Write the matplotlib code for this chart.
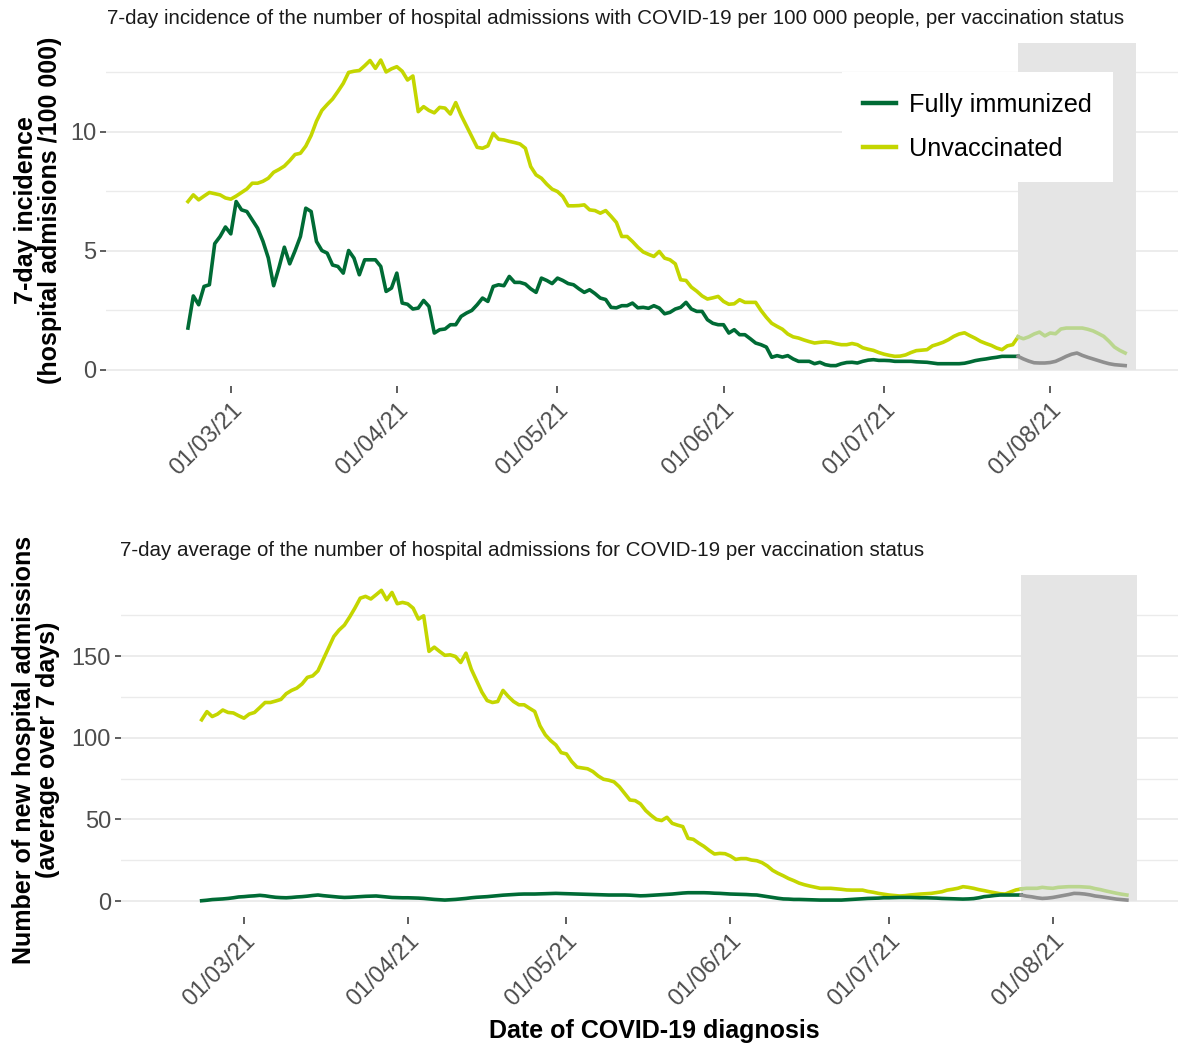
import numpy as np
import matplotlib
matplotlib.use("Agg")
import matplotlib.pyplot as plt
import matplotlib.dates as mdates
from matplotlib.lines import Line2D

plt.rcParams['font.family'] = ['Liberation Sans', 'DejaVu Sans']

# daily series, 21/02/21 .. 15/08/21
first_day = np.datetime64('2021-02-21')
dates = first_day + np.arange(176)

# 7-day incidence per 100 000
inc_unvacc = [
    7.07, 7.35, 7.14, 7.30, 7.45, 7.40, 7.35, 7.22, 7.17, 7.30,
    7.45, 7.60, 7.84, 7.84, 7.92, 8.05, 8.30, 8.42, 8.56, 8.79,
    9.05, 9.10, 9.40, 9.85, 10.45, 10.90, 11.15, 11.38, 11.70, 12.04,
    12.50, 12.55, 12.58, 12.78, 13.00, 12.67, 13.02, 12.52, 12.65, 12.74,
    12.55, 12.18, 12.35, 10.85, 11.06, 10.90, 10.80, 11.03, 11.00, 10.75,
    11.23, 10.70, 10.25, 9.80, 9.35, 9.31, 9.41, 9.94, 9.69, 9.66,
    9.60, 9.55, 9.49, 9.31, 8.54, 8.19, 8.05, 7.80, 7.59, 7.49,
    7.28, 6.89, 6.89, 6.90, 6.93, 6.72, 6.69, 6.58, 6.69, 6.45,
    6.19, 5.60, 5.60, 5.39, 5.15, 4.95, 4.85, 4.76, 4.97, 4.69,
    4.62, 4.45, 3.78, 3.75, 3.47, 3.30, 3.10, 2.97, 3.02, 3.08,
    2.87, 2.75, 2.77, 2.94, 2.83, 2.83, 2.83, 2.49, 2.20, 1.95,
    1.82, 1.70, 1.50, 1.38, 1.33, 1.25, 1.18, 1.12, 1.15, 1.17,
    1.15, 1.09, 1.05, 1.05, 1.10, 1.05, 0.92, 0.86, 0.81, 0.72,
    0.65, 0.60, 0.56, 0.57, 0.62, 0.72, 0.80, 0.82, 0.84, 1.00,
    1.07, 1.15, 1.26, 1.40, 1.50, 1.55, 1.43, 1.32, 1.19, 1.10,
    1.02, 0.91, 0.84, 1.00, 1.05, 1.38, 1.30, 1.38, 1.50, 1.58,
    1.42, 1.54, 1.51, 1.71, 1.75, 1.75, 1.75, 1.75, 1.70, 1.63,
    1.52, 1.40, 1.19, 0.95, 0.81, 0.70,
]
inc_immun = [
    1.75, 3.10, 2.73, 3.50, 3.57, 5.30, 5.60, 6.00, 5.71, 7.07,
    6.72, 6.65, 6.30, 5.95, 5.40, 4.70, 3.53, 4.30, 5.15, 4.45,
    5.00, 5.60, 6.79, 6.65, 5.39, 5.01, 4.90, 4.40, 4.34, 4.06,
    5.01, 4.69, 3.99, 4.62, 4.62, 4.62, 4.34, 3.29, 3.43, 4.06,
    2.80, 2.75, 2.55, 2.59, 2.91, 2.66, 1.54, 1.68, 1.71, 1.89,
    1.89, 2.24, 2.38, 2.49, 2.73, 3.01, 2.87, 3.50, 3.57, 3.53,
    3.92, 3.67, 3.67, 3.60, 3.40, 3.25, 3.85, 3.75, 3.62, 3.85,
    3.75, 3.62, 3.57, 3.40, 3.25, 3.36, 3.20, 3.01, 2.95, 2.62,
    2.60, 2.69, 2.69, 2.80, 2.60, 2.62, 2.58, 2.69, 2.59, 2.35,
    2.41, 2.55, 2.62, 2.83, 2.55, 2.45, 2.45, 2.10, 1.95, 1.89,
    1.89, 1.54, 1.68, 1.47, 1.47, 1.30, 1.12, 1.05, 0.95, 0.52,
    0.59, 0.53, 0.59, 0.45, 0.35, 0.35, 0.35, 0.25, 0.31, 0.21,
    0.17, 0.17, 0.25, 0.30, 0.31, 0.28, 0.35, 0.40, 0.42, 0.39,
    0.39, 0.38, 0.35, 0.35, 0.35, 0.35, 0.33, 0.32, 0.31, 0.28,
    0.25, 0.25, 0.25, 0.25, 0.25, 0.27, 0.32, 0.38, 0.42, 0.45,
    0.49, 0.52, 0.56, 0.56, 0.56, 0.56, 0.45, 0.36, 0.29, 0.28,
    0.28, 0.30, 0.35, 0.45, 0.56, 0.65, 0.70, 0.60, 0.52, 0.45,
    0.38, 0.31, 0.25, 0.21, 0.19, 0.17,
]

# 7-day average of admissions
adm_unvacc = [
    111.0, 116.0, 113.0, 114.5, 117.0, 115.5, 115.2, 113.5, 112.0, 114.5,
    115.5, 118.5, 121.6, 121.6, 122.5, 123.5, 127.0, 129.0, 130.4, 133.0,
    137.0, 137.9, 141.0, 148.0, 155.0, 162.0, 166.0, 169.0, 174.0, 179.5,
    185.5, 186.6, 185.0, 187.6, 190.3, 184.5, 189.0, 182.1, 182.9, 182.1,
    179.4, 172.7, 174.7, 152.9, 155.5, 152.9, 150.5, 150.8, 149.8, 146.1,
    151.8, 142.0, 135.0, 128.0, 122.8, 121.6, 122.2, 129.0, 125.3, 122.2,
    120.2, 120.2, 118.1, 116.1, 107.3, 101.8, 98.3, 95.6, 90.9, 90.1,
    85.4, 82.0, 81.5, 81.0, 79.3, 76.6, 74.6, 74.0, 73.0, 70.0,
    66.0, 61.9, 61.5, 59.5, 55.4, 52.5, 50.0, 49.3, 51.3, 47.6,
    46.5, 45.6, 38.4, 37.8, 35.5, 33.5, 31.0, 28.8, 29.2, 29.0,
    27.6, 25.5, 26.0, 26.0, 25.1, 24.7, 23.5, 21.5, 18.8, 17.0,
    15.5, 13.8, 12.5, 11.0, 10.0, 9.2, 8.5, 7.8, 7.8, 7.8,
    7.5, 7.2, 6.8, 6.7, 6.7, 6.7, 5.9, 5.4, 4.7, 4.2,
    3.7, 3.4, 3.1, 3.3, 3.7, 4.0, 4.3, 4.5, 4.7, 5.2,
    5.7, 6.7, 7.2, 7.8, 8.8, 8.4, 7.8, 7.0, 6.4, 5.7,
    5.1, 4.5, 4.3, 5.6, 6.8, 7.4, 7.8, 7.8, 7.8, 8.4,
    8.0, 7.8, 8.4, 8.6, 8.8, 8.8, 8.8, 8.6, 8.4, 7.6,
    7.0, 6.2, 5.5, 4.8, 4.2, 3.7,
]
adm_immun = [
    0.2, 0.5, 0.9, 1.1, 1.3, 1.6, 2.0, 2.5, 2.7, 3.0,
    3.2, 3.5, 3.2, 2.7, 2.3, 2.1, 2.0, 2.2, 2.5, 2.7,
    3.0, 3.4, 3.7, 3.3, 3.0, 2.7, 2.4, 2.2, 2.3, 2.5,
    2.7, 2.9, 3.0, 3.1, 2.8, 2.5, 2.2, 2.1, 2.0, 2.0,
    1.9, 1.8, 1.6, 1.3, 1.0, 0.8, 0.6, 0.8, 1.0, 1.3,
    1.6, 2.0, 2.3, 2.5, 2.7, 3.0, 3.3, 3.6, 3.8, 4.0,
    4.2, 4.3, 4.3, 4.3, 4.4, 4.5, 4.6, 4.7, 4.6, 4.5,
    4.4, 4.3, 4.2, 4.1, 4.0, 3.9, 3.8, 3.7, 3.7, 3.7,
    3.7, 3.6, 3.4, 3.2, 3.3, 3.5, 3.7, 3.9, 4.1, 4.3,
    4.6, 4.9, 5.1, 5.1, 5.1, 5.1, 5.0, 4.8, 4.7, 4.5,
    4.3, 4.2, 4.1, 4.0, 3.8, 3.7, 3.2, 2.7, 2.2, 1.7,
    1.3, 1.2, 1.0, 1.0, 0.9, 0.8, 0.7, 0.6, 0.6, 0.6,
    0.6, 0.6, 0.8, 1.0, 1.2, 1.4, 1.6, 1.7, 1.8, 2.0,
    2.0, 2.1, 2.2, 2.2, 2.2, 2.1, 2.0, 2.0, 1.9, 1.8,
    1.6, 1.5, 1.4, 1.3, 1.2, 1.3, 1.5, 2.0, 2.7, 3.0,
    3.4, 3.7, 3.7, 3.7, 3.7, 3.7, 3.0, 2.6, 2.0, 1.6,
    1.8, 2.2, 2.8, 3.4, 4.0, 4.7, 4.6, 4.3, 3.8, 3.1,
    2.7, 2.2, 1.7, 1.2, 0.9, 0.6,
]

# period with incomplete data (shaded)
shade_start = np.datetime64('2021-07-26')
shade_end = np.datetime64('2021-08-17')
shade_top_inc = 13.72
shade_top_adm = 199.5

col_immun = '#006B35'
col_unvacc = '#C4D600'
col_immun_pale = '#8F8F8F'
col_unvacc_pale = '#BAD68E'

x_lo = mdates.date2num(np.datetime64('2021-03-01')) - 23.3
x_hi = mdates.date2num(np.datetime64('2021-03-01')) + 176.8

fig = plt.figure(figsize=(11.78, 10.46), dpi=100)
ax1 = fig.add_axes([0.0900, 0.6310, 0.9097, 0.3432])
ax2 = fig.add_axes([0.1025, 0.1230, 0.8981, 0.3426])

dnum = mdates.date2num(dates)
cut = int(np.argmax(dates >= shade_start))


def draw_panel(ax, immun, unvacc, shade_top, ylim, majors, minors):
    immun = np.asarray(immun)
    unvacc = np.asarray(unvacc)
    ax.fill_between(mdates.date2num([shade_start, shade_end]), 0, shade_top,
                    color='#E5E5E5', lw=0, zorder=1)
    ax.plot(dnum[:cut + 1], unvacc[:cut + 1], color=col_unvacc, lw=2.6, zorder=3,
            solid_joinstyle='round')
    ax.plot(dnum[:cut + 1], immun[:cut + 1], color=col_immun, lw=2.6, zorder=3,
            solid_joinstyle='round')
    ax.plot(dnum[cut:], unvacc[cut:], color=col_unvacc_pale, lw=2.6, zorder=3)
    ax.plot(dnum[cut:], immun[cut:], color=col_immun_pale, lw=2.6, zorder=3)

    ax.set_xlim(x_lo, x_hi)
    ax.set_ylim(*ylim)
    ax.set_yticks(majors)
    ax.set_yticks(minors, minor=True)
    ax.grid(True, axis='y', which='major', color='#EBEBEB', lw=1.3)
    ax.grid(True, axis='y', which='minor', color='#EBEBEB', lw=1.0)
    ax.grid(False, axis='x')
    ax.set_axisbelow(True)
    for s in ax.spines.values():
        s.set_visible(False)

    ax.xaxis.set_major_locator(mdates.MonthLocator())
    ax.xaxis.set_major_formatter(mdates.DateFormatter('%d/%m/%y'))
    ax.tick_params(axis='x', length=5, width=1.1, color='#333333', pad=4,
                   labelsize=17, labelcolor='#4D4D4D')
    ax.tick_params(axis='y', length=4, width=1.1, color='#333333', pad=3,
                   labelsize=17, labelcolor='#4D4D4D')
    ax.tick_params(which='minor', length=0)
    for lab in ax.get_xticklabels():
        lab.set_rotation(45)
        lab.set_ha('right')
        lab.set_rotation_mode('anchor')


draw_panel(ax1, inc_immun, inc_unvacc, shade_top_inc, (-0.686, 14.41),
           [0, 5, 10], [2.5, 7.5, 12.5])
draw_panel(ax2, adm_immun, adm_unvacc, shade_top_adm, (-9.98, 209.5),
           [0, 50, 100, 150], [25, 75, 125, 175])

handles = [Line2D([], [], color=col_immun, lw=3.2),
           Line2D([], [], color=col_unvacc, lw=3.2)]
leg = ax1.legend(handles, ['Fully immunized', 'Unvaccinated'],
                 loc='upper left', bbox_to_anchor=(842 / 1178, 1 - 72 / 1046),
                 bbox_transform=fig.transFigure, frameon=True, facecolor='white',
                 edgecolor='none', framealpha=1, fancybox=False, fontsize=18.2,
                 handlelength=1.3, handletextpad=0.55, labelspacing=0.8,
                 borderpad=0.82, borderaxespad=0)
leg.set_zorder(5)

fig.text(107 / 1178, 1 - 19 / 1046,
         '7-day incidence of the number of hospital admissions with COVID-19 per 100 000 people, per vaccination status',
         ha='left', va='center', fontsize=14.8, color='#1A1A1A')
fig.text(120 / 1178, 1 - 551 / 1046,
         '7-day average of the number of hospital admissions for COVID-19 per vaccination status',
         ha='left', va='center', fontsize=14.8, color='#1A1A1A')

fig.text(38 / 1178, 1 - 210 / 1046, '7-day incidence\n(hospital admisions /100 000)',
         rotation=90, ha='center', va='center', multialignment='center',
         fontsize=18, fontweight='bold', linespacing=1.05)
fig.text(36 / 1178, 1 - 750 / 1046, 'Number of new hospital admissions\n(average over 7 days)',
         rotation=90, ha='center', va='center', multialignment='center',
         fontsize=18, fontweight='bold', linespacing=1.05)
fig.text(654 / 1178, 1 - 1031 / 1046, 'Date of COVID-19 diagnosis',
         ha='center', va='center', fontsize=18, fontweight='bold')

fig.savefig('out.png', dpi=100, facecolor='white')
